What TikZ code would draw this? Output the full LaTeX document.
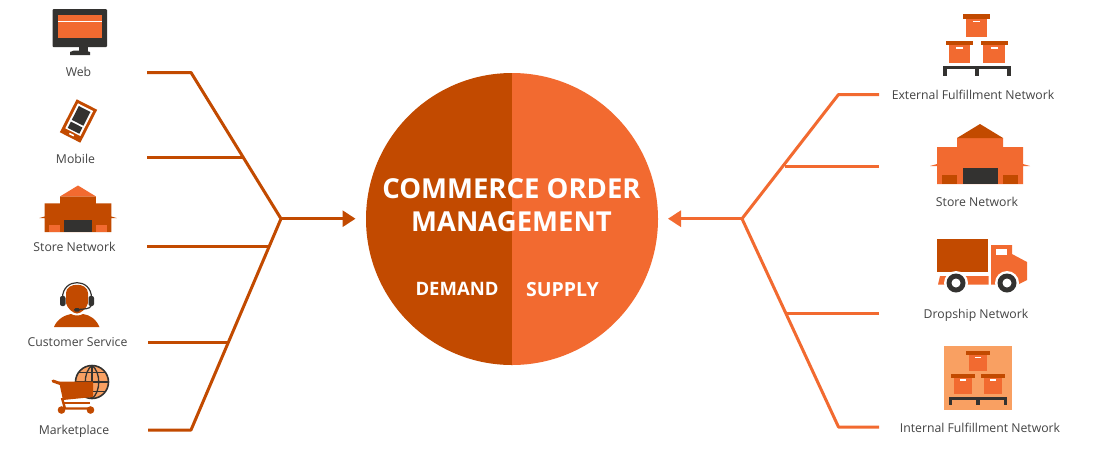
\documentclass[tikz,border=0pt]{standalone}
\usepackage{fontspec}
\setmainfont{Open Sans}
\usetikzlibrary{arrows.meta}
\definecolor{darko}{HTML}{C24A00}
\definecolor{oran}{HTML}{F26A30}
\definecolor{lighto}{HTML}{F9A062}
\definecolor{darkg}{HTML}{333230}
\definecolor{labelg}{HTML}{444444}
\tikzset{
  lab/.style={text=labelg,font=\fontsize{12.25}{15}\selectfont,inner sep=0pt,anchor=center},
  demandline/.style={draw=darko,line width=3pt,line join=round},
  supplyline/.style={draw=oran,line width=3pt,line join=round},
  demandarrow/.style={demandline,-{Triangle[length=13pt,width=16pt]}},
  supplyarrow/.style={supplyline,-{Triangle[length=13pt,width=16pt]}},
  title/.style={text=white,font=\bfseries\fontsize{27.5}{33}\selectfont,align=center,inner sep=0pt},
  side/.style={text=white,font=\bfseries\fontsize{18.5}{22}\selectfont,inner sep=0pt},
  sideb/.style={text=white,font=\bfseries\fontsize{19.5}{22}\selectfont,inner sep=0pt}
}
% warehouse: centre x, top y, scale, body colour, accent colour
\newcommand{\wareh}[5]{%
  \begin{scope}[shift={(#1,#2)},scale=#3]
    \fill[#4] (-43,23) -- (-23,23) -- (-23,14) -- (23,14) -- (23,23) -- (43,23) -- (43,40) -- (50,42) -- (43,42) -- (43,60) -- (-43,60) -- (-43,42) -- (-50,42) -- (-43,40) -- cycle;
    \fill[#5] (0,0) -- (23,14) -- (-23,14) -- cycle;
    \fill[darkg] (-17.5,44) rectangle (17.5,60);
    \fill[#5] (-38,51) rectangle (-23,60);
    \fill[#5] (23,51) rectangle (38,60);
  \end{scope}}
% crate: centre x, top y, scale
\newcommand{\crate}[3]{%
  \begin{scope}[shift={(#1,#2)},scale=#3]
    \fill[darko] (-13.5,0) rectangle (13.5,4.6);
    \fill[oran] (-10.7,4.6) rectangle (10.7,22.5);
    \fill[white] (-3.5,6.2) rectangle (3.5,8);
  \end{scope}}
% pallet: centre x, top y, scale
\newcommand{\pallet}[3]{%
  \begin{scope}[shift={(#1,#2)},scale=#3]
    \fill[darkg] (-34,0) rectangle (34,3.4);
    \fill[darkg] (-34,0) rectangle (-30,10);
    \fill[darkg] (-2,0) rectangle (2.4,10);
    \fill[darkg] (30,0) rectangle (34,10);
  \end{scope}}
\begin{document}
\begin{tikzpicture}[x=1pt,y=-1pt]
\useasboundingbox (0,0) rectangle (1099,451);
\fill[white] (0,0) rectangle (1099,451);

% central disc
\fill[darko] (512,73) arc[start angle=90,end angle=270,radius=146pt] -- cycle;
\fill[oran] (512,73) arc[start angle=90,end angle=-90,radius=146pt] -- cycle;
\node[title] (ttl) at (511.5,205.3) {COMMERCE ORDER\\MANAGEMENT};
\node[side] (dem) at (457,289) {DEMAND};
\node[sideb] (sup) at (562.5,290) {SUPPLY};

% left connector points
\coordinate (lj) at (281,218.7);
\coordinate (lt) at (191,72.5);
\coordinate (lb) at (191,430);
\coordinate (l1) at (147,72.5);
\coordinate (l2) at (147,157.5);
\coordinate (l2j) at (243,157.5);
\coordinate (l3) at (147,246.7);
\coordinate (l3j) at (269,246.7);
\coordinate (l4) at (148,342);
\coordinate (l4j) at (228.5,342);
\coordinate (l5) at (148,430);
\coordinate (la) at (355.5,218.7);
\draw[demandline] (l1) -- (lt) -- (lj) -- (lb) -- (l5);
\draw[demandline] (l2) -- (l2j);
\draw[demandline] (l3) -- (l3j);
\draw[demandline] (l4) -- (l4j);
\draw[demandarrow] (lj) -- (la);

% right connector points
\coordinate (rj) at (742,218.7);
\coordinate (rt) at (838.5,94.5);
\coordinate (rb) at (838.5,427);
\coordinate (r1) at (879,94.5);
\coordinate (r2) at (879,166.5);
\coordinate (r2j) at (784.5,166.5);
\coordinate (r3) at (879,313.5);
\coordinate (r3j) at (786,313.5);
\coordinate (r4) at (879,427);
\coordinate (ra) at (668,218.7);
\draw[supplyline] (r1) -- (rt) -- (rj) -- (rb) -- (r4);
\draw[supplyline] (r2) -- (r2j);
\draw[supplyline] (r3) -- (r3j);
\draw[supplyarrow] (rj) -- (ra);

% labels
\node[lab] (web) at (78.5,72) {Web};
\node[lab] (mob) at (75.5,158.5) {Mobile};
\node[lab] (stl) at (74.5,247) {Store Network};
\node[lab] (cus) at (77.5,342) {Customer Service};
\node[lab] (mkt) at (74,431.5) {Marketplace};
\node[lab] (ext) at (973,95) {External Fulfillment Network};
\node[lab] (str) at (977,201.5) {Store Network};
\node[lab] (drp) at (976,315.5) {Dropship Network};
\node[lab] (int) at (980,427.5) {Internal Fulfillment Network};

% web icon
\fill[darkg,rounded corners=1pt] (52.5,9) rectangle (107,47);
\fill[oran] (58,14.5) rectangle (102,37.5);
\fill[white] (58,20.5) rectangle (102,22);
\fill[darkg] (78.5,47) rectangle (88,52);
\fill[darkg] (70,52) -- (74,50.5) -- (85,50.5) -- (90,52) -- (90,55) -- (70,55) -- cycle;

% mobile icon
\begin{scope}[shift={(78.5,121)},rotate=-27]
  \fill[darko] (-11.5,-18.5) rectangle (11.5,18.5);
  \fill[white] (-8.5,-15.5) rectangle (8.5,12.5);
  \fill[darkg] (-6.5,-13.5) rectangle (6.5,2);
  \fill[darkg] (-6.5,4) rectangle (6.5,11);
  \fill[white] (-2.5,14.5) rectangle (2.5,16);
\end{scope}

% left store
\wareh{78}{185.5}{0.775}{darko}{oran}

% customer service icon
\fill[darko] (54,327) .. controls (57,319) and (65,315) .. (71,314) .. controls (74,316) and (80,316) .. (83,314) .. controls (90,315) and (96,319) .. (99.5,327) -- cycle;
\fill[darko] (66,293) .. controls (66,282) and (88,282) .. (88,293) -- (88,303) .. controls (87,308) and (81,313.5) .. (77,313.5) .. controls (73,313.5) and (67,308) .. (66,303) -- cycle;
\draw[darkg,line width=1.2pt] (62.5,298) .. controls (62.5,277.5) and (91.5,277.5) .. (91.5,298);
\fill[darkg,rounded corners=2pt] (60,296) rectangle (65.5,306);
\fill[darkg,rounded corners=2pt] (88.5,296) rectangle (94,306);
\draw[darkg,line width=1.2pt] (91,306) .. controls (90,309) and (84,309) .. (78,309.5);
\fill[darkg,rounded corners=1.5pt] (74,308) rectangle (80,311.5);

% marketplace icon
\fill[lighto] (92,382) circle[radius=16.5pt];
\draw[darkg,line width=1.6pt] (92,382) circle[radius=16.5pt];
\draw[darkg,line width=1.3pt] (92,365.5) .. controls (83,372) and (83,392) .. (92,398.5);
\draw[darkg,line width=1.3pt] (92,365.5) .. controls (101,372) and (101,392) .. (92,398.5);
\draw[darkg,line width=1.3pt] (92,365.5) -- (92,398.5);
\draw[darkg,line width=1.3pt] (75.5,382) -- (108.5,382);
\draw[darkg,line width=1.3pt] (79,372.5) -- (105,372.5);
\draw[darkg,line width=1.3pt] (79,391.5) -- (105,391.5);
\fill[darko] (59,381.5) -- (93,381.5) -- (93,397) -- (63,400) -- cycle;
\draw[darko,line width=3pt,line cap=round] (53,381) -- (60,383.5);
\draw[darko,line width=2.4pt] (62,398) -- (65,408.5) -- (92,408.5);
\draw[darko,line width=2.4pt] (64,403) -- (90,403);
\fill[darko] (61.5,410) circle[radius=3.8pt];
\fill[darko] (90.5,410) circle[radius=3.8pt];

% external fulfillment icon
\crate{976.5}{14.3}{1}
\crate{959.5}{40.7}{1}
\crate{994}{40.7}{1}
\pallet{977}{66}{1}

% right store
\wareh{980}{124}{1}{oran}{darko}

% truck icon
\fill[darko] (936.5,239) rectangle (988,272);
\fill[oran] (991,245) -- (1012,245) -- (1012,254) -- (1027,262) -- (1027,280) -- (1018,284.5) -- (991,284.5) -- cycle;
\fill[oran] (938,284.5) -- (940,276) -- (988.5,276) -- (988.5,284.5) -- cycle;
\fill[white] (996,249) rectangle (1007,254.5);
\fill[white] (956,283) circle[radius=12pt];
\fill[white] (1007,283) circle[radius=12pt];
\fill[darkg] (956,283) circle[radius=9.5pt];
\fill[darkg] (1007,283) circle[radius=9.5pt];
\fill[white] (956,283) circle[radius=4.5pt];
\fill[white] (1007,283) circle[radius=4.5pt];

% internal fulfillment icon
\fill[lighto] (943.5,346) rectangle (1012,410);
\crate{978}{351.3}{0.87}
\crate{963}{374}{0.87}
\crate{993}{374}{0.87}
\pallet{978}{396.8}{0.855}
\end{tikzpicture}
\end{document}
